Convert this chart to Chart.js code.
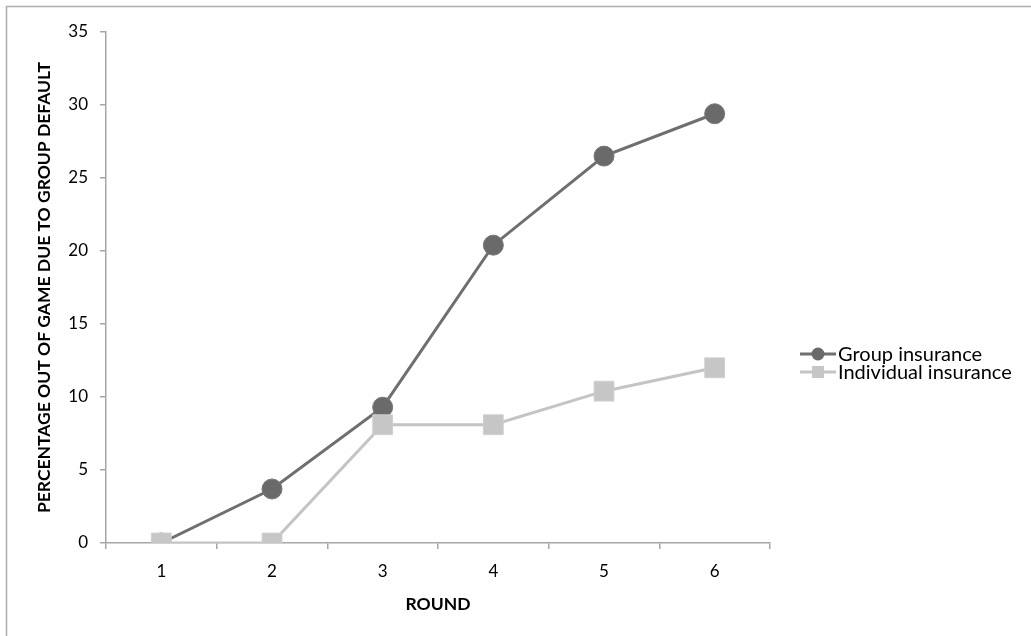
<!DOCTYPE html>
<html>
<head>
<meta charset="utf-8">
<script src="https://cdn.jsdelivr.net/npm/chart.js@4.4.1/dist/chart.umd.min.js"></script>
<style>
  html, body { margin: 0; padding: 0; background: #fff; }
  #wrap { width: 1031px; height: 636px; position: relative; }
</style>
</head>
<body>
<div id="wrap"><canvas id="roundChart"></canvas></div>
<script>
const rounds = ['1', '2', '3', '4', '5', '6'];
const groupInsurance = [0, 3.7, 9.3, 20.4, 26.5, 29.4];
const individualInsurance = [0, 0, 8.1, 8.1, 10.4, 12.0];
const yTicks = [0, 5, 10, 15, 20, 25, 30, 35];
const seriesNames = ['Group insurance', 'Individual insurance'];

const FONT = 'Lato, "Liberation Sans", sans-serif';
const AXIS_GREY = '#a6a6a6';
const DARK = '#6f6f6f';
const LIGHT = '#c4c4c4';

// frame (only the top and left edges are in the picture) + legend
const framePlugin = {
    id: 'frame',
    beforeDraw(chart) {
        const ctx = chart.ctx;
        ctx.save();
        ctx.fillStyle = '#fff';
        ctx.fillRect(0, 0, chart.width, chart.height);
        ctx.strokeStyle = '#adadad';
        ctx.lineWidth = 1.5;
        ctx.beginPath();
        ctx.moveTo(6.5, chart.height);
        ctx.lineTo(6.5, 6.5);
        ctx.lineTo(chart.width, 6.5);
        ctx.stroke();
        ctx.restore();
    },
    afterDraw(chart) {
        const ctx = chart.ctx;
        const x0 = 800, x1 = 836, mx = 818, tx = 838;
        const rows = [354, 372];
        ctx.save();
        chart.data.datasets.forEach((ds, i) => {
            const y = rows[i];
            ctx.strokeStyle = ds.borderColor;
            ctx.lineWidth = 3;
            ctx.beginPath();
            ctx.moveTo(x0, y);
            ctx.lineTo(x1, y);
            ctx.stroke();
            ctx.fillStyle = ds.pointBackgroundColor;
            if (ds.pointStyle === 'circle') {
                ctx.beginPath();
                ctx.arc(mx, y, 6.5, 0, Math.PI * 2);
                ctx.fill();
            } else {
                ctx.fillRect(mx - 6, y - 6, 12, 12);
            }
            ctx.fillStyle = '#000';
            ctx.font = '20px ' + FONT;
            ctx.textAlign = 'left';
            ctx.textBaseline = 'middle';
            ctx.fillText(seriesNames[i], tx, y + 1);
        });
        ctx.restore();
    }
};

new Chart(document.getElementById('roundChart'), {
    type: 'line',
    data: {
        labels: rounds,
        datasets: [{
            label: seriesNames[0],
            data: groupInsurance,
            borderColor: DARK,
            borderWidth: 3,
            pointStyle: 'circle',
            pointRadius: 10,
            pointBackgroundColor: '#6a6a6a',
            pointBorderColor: '#777777',
            pointBorderWidth: 1,
            tension: 0,
            order: 1,
        }, {
            label: seriesNames[1],
            data: individualInsurance,
            borderColor: LIGHT,
            borderWidth: 3,
            pointStyle: 'rect',
            pointRadius: 14,
            pointBackgroundColor: '#c6c6c6',
            pointBorderColor: '#cfcfcf',
            pointBorderWidth: 1,
            tension: 0,
            order: 0,
        }],
    },
    options: {
        responsive: true,
        maintainAspectRatio: false,
        animation: false,
        layout: { padding: { top: 32, right: 261, left: 0, bottom: 0 } },
        plugins: {
            legend: { display: false },
            tooltip: { enabled: false },
        },
        scales: {
            x: {
                type: 'category',
                offset: true,
                afterFit: (scale) => { scale.height = 93; },
                grid: {
                    offset: true,
                    drawOnChartArea: false,
                    drawTicks: true,
                    tickLength: 6,
                    color: AXIS_GREY,
                    lineWidth: 1.5,
                },
                border: { color: AXIS_GREY, width: 1.5 },
                ticks: { color: '#000', font: { family: FONT, size: 17 }, padding: 12 },
                title: {
                    display: true,
                    text: 'ROUND',
                    color: '#000',
                    font: { family: FONT, size: 17.5, weight: 'bold' },
                    padding: { top: 0, bottom: 21 },
                },
            },
            y: {
                min: 0,
                max: 35,
                afterFit: (scale) => { scale.width = 106; },
                afterBuildTicks: (scale) => { scale.ticks = yTicks.map((v) => ({ value: v })); },
                grid: {
                    drawOnChartArea: false,
                    drawTicks: true,
                    tickLength: 6,
                    color: AXIS_GREY,
                    lineWidth: 1.5,
                },
                border: { color: AXIS_GREY, width: 1.5 },
                ticks: { color: '#000', font: { family: FONT, size: 17 }, padding: 12 },
                title: {
                    display: true,
                    text: 'PERCENTAGE OUT OF GAME DUE TO GROUP DEFAULT',
                    color: '#000',
                    font: { family: FONT, size: 17.5, weight: 'bold' },
                    padding: { top: 34, bottom: 0 },
                },
            },
        },
    },
    plugins: [framePlugin],
});
</script>
</body>
</html>
